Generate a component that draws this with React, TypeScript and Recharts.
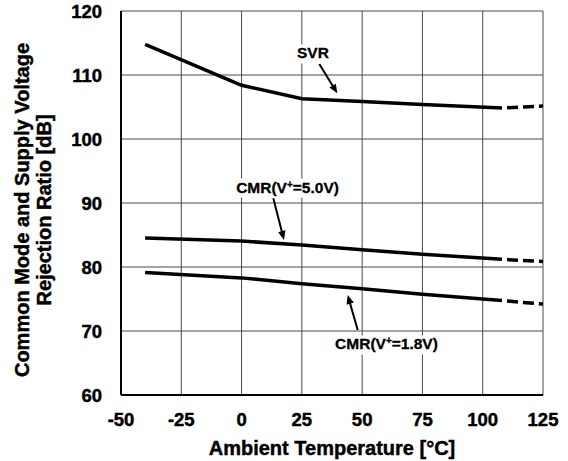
import React from 'react';
import { LineChart, Line, XAxis, YAxis, CartesianGrid, ReferenceLine, ReferenceDot, Label } from 'recharts';

// Ambient temperature [°C]
const temps = [-40, 0, 25, 50, 75, 108];
const tempsExt = [108, 125];

// Supply voltage rejection [dB]
const svr = [114.8, 108.4, 106.3, 105.85, 105.4, 104.85];
const svrExt = [104.85, 105.15];

// Common mode rejection, V+ = 5.0V [dB]
const cmr50 = [84.55, 84.05, 83.45, 82.7, 82.0, 81.2];
const cmr50Ext = [81.2, 80.85];

// Common mode rejection, V+ = 1.8V [dB]
const cmr18 = [79.15, 78.3, 77.4, 76.6, 75.75, 74.75];
const cmr18Ext = [74.75, 74.2];

const xTicks = [-50, -25, 0, 25, 50, 75, 100, 125];
const yTicks = [60, 70, 80, 90, 100, 110, 120];

// annotation labels (data coordinates)
const labelNames = ['SVR', 'CMR(V+=5.0V)', 'CMR(V+=1.8V)'];
const labelX = [29.6, 19.05, 60.1];
const labelY = [113.44, 92.5, 67.97];
const labelW = [40, 110, 110];

// annotation arrows: from -> to (data coordinates)
const arrowFromX = [32.24, 13.16, 48.16];
const arrowFromY = [111.72, 90.73, 70.16];
const arrowToX = [39.7, 17.6, 44.01];
const arrowToY = [107.14, 84.22, 75.63];

const solidData = temps.map((t, i) => ({ t, svr: svr[i], cmr50: cmr50[i], cmr18: cmr18[i] }));
const extData = tempsExt.map((t, i) => ({ t, svr: svrExt[i], cmr50: cmr50Ext[i], cmr18: cmr18Ext[i] }));

const FONT = '"Liberation Sans", Arial, Helvetica, sans-serif';
const TEXT_STROKE = { stroke: '#000', strokeWidth: 0.45 };

const ArrowShape = (props: any) => {
  const { x1, y1, x2, y2 } = props;
  if ([x1, y1, x2, y2].some((v) => typeof v !== 'number' || isNaN(v))) return null;
  const dx = x2 - x1;
  const dy = y2 - y1;
  const len = Math.sqrt(dx * dx + dy * dy) || 1;
  const ux = dx / len;
  const uy = dy / len;
  const hl = 9;
  const hw = 3.8;
  const bx = x2 - ux * hl;
  const by = y2 - uy * hl;
  const px = -uy;
  const py = ux;
  const pts = `${x2},${y2} ${bx + px * hw},${by + py * hw} ${bx - px * hw},${by - py * hw}`;
  return (
    <g>
      <line x1={x1} y1={y1} x2={bx + ux * 1} y2={by + uy * 1} stroke="#000" strokeWidth={2} />
      <polygon points={pts} fill="#000" />
    </g>
  );
};

const renderLabel = (name: string, w: number) => (props: any) => {
  const { cx, cy } = props;
  if (typeof cx !== 'number' || typeof cy !== 'number') return null;
  const m = name.match(/^(.*\(V)\+(=.*)$/);
  return (
    <g>
      <rect x={cx - w / 2} y={cy - 8.5} width={w} height={19} fill="#fff" />
      <text
        x={cx}
        y={cy + 5.5}
        textAnchor="middle"
        fontFamily={FONT}
        fontWeight="bold"
        fontSize={15.5}
        fill="#000"
        {...TEXT_STROKE}
        strokeWidth={0.3}
      >
        {m ? (
          <>
            <tspan>{m[1]}</tspan>
            <tspan fontSize={10} dy={-5}>+</tspan>
            <tspan dy={5}>{m[2]}</tspan>
          </>
        ) : (
          name
        )}
      </text>
    </g>
  );
};

const XTick = (props: any) => {
  const { x, y, payload } = props;
  return (
    <text x={x} y={y + 13} textAnchor="middle" fontFamily={FONT} fontWeight="bold" fontSize={18.5} fill="#000" {...TEXT_STROKE}>
      {payload.value}
    </text>
  );
};

const YTick = (props: any) => {
  const { x, y, payload } = props;
  return (
    <text x={x} y={y + 6.6} textAnchor="end" fontFamily={FONT} fontWeight="bold" fontSize={18.5} fill="#000" {...TEXT_STROKE}>
      {payload.value}
    </text>
  );
};

const XTitle = (props: any) => {
  const vb = props.viewBox || {};
  const cx = (vb.x ?? 121) + (vb.width ?? 422) / 2;
  const y = (vb.y ?? 395) + 60;
  return (
    <text x={cx} y={y} textAnchor="middle" fontFamily={FONT} fontWeight="bold" fontSize={20} fill="#000" {...TEXT_STROKE}>
      Ambient Temperature [°C]
    </text>
  );
};

const YTitle = () => (
  <text transform="rotate(-90)" textAnchor="middle" fontFamily={FONT} fontWeight="bold" fontSize={20} fill="#000" {...TEXT_STROKE}>
    <tspan x={-210} y={28.5}>Common Mode and Supply Voltage</tspan>
    <tspan x={-210} y={50.5}>Rejection Ratio [dB]</tspan>
  </text>
);

export default function App() {
  return (
    <div style={{ position: 'absolute', left: 0, top: 0, width: 568, height: 461, background: '#fff', overflow: 'hidden' }}>
      <LineChart width={568} height={461} margin={{ top: 11, right: 25, bottom: 0, left: 0 }}>
        <CartesianGrid stroke="#4a4a4a" strokeWidth={1} horizontalValues={yTicks} verticalValues={xTicks} />
        <XAxis
          type="number"
          dataKey="t"
          domain={[-50, 125]}
          ticks={xTicks}
          allowDataOverflow
          height={66}
          tickSize={0}
          tickLine={false}
          tickMargin={18}
          tick={<XTick />}
          axisLine={{ stroke: '#000', strokeWidth: 2 }}
        >
          <Label content={XTitle} />
        </XAxis>
        <YAxis
          type="number"
          domain={[60, 120]}
          ticks={yTicks}
          allowDataOverflow
          width={121}
          tickSize={0}
          tickLine={false}
          tickMargin={19}
          tick={<YTick />}
          axisLine={{ stroke: '#000', strokeWidth: 2 }}
        >
          <Label content={YTitle} />
        </YAxis>

        <Line data={solidData} dataKey="svr" type="linear" stroke="#000" strokeWidth={3.5} dot={false} isAnimationActive={false} />
        <Line data={solidData} dataKey="cmr50" type="linear" stroke="#000" strokeWidth={3.5} dot={false} isAnimationActive={false} />
        <Line data={solidData} dataKey="cmr18" type="linear" stroke="#000" strokeWidth={3.5} dot={false} isAnimationActive={false} />
        <Line data={extData} dataKey="svr" type="linear" stroke="#000" strokeWidth={3.5} strokeDasharray="0 5 11 0" dot={false} isAnimationActive={false} />
        <Line data={extData} dataKey="cmr50" type="linear" stroke="#000" strokeWidth={3.5} strokeDasharray="0 5 11 0" dot={false} isAnimationActive={false} />
        <Line data={extData} dataKey="cmr18" type="linear" stroke="#000" strokeWidth={3.5} strokeDasharray="0 5 11 0" dot={false} isAnimationActive={false} />

        {labelNames.map((n, i) => (
          <ReferenceLine
            key={'a' + i}
            segment={[
              { x: arrowFromX[i], y: arrowFromY[i] },
              { x: arrowToX[i], y: arrowToY[i] },
            ]}
            shape={ArrowShape}
            ifOverflow="visible"
          />
        ))}
        {labelNames.map((n, i) => (
          <ReferenceDot
            key={'l' + i}
            x={labelX[i]}
            y={labelY[i]}
            r={0}
            ifOverflow="visible"
            shape={renderLabel(n, labelW[i])}
          />
        ))}
      </LineChart>
    </div>
  );
}
